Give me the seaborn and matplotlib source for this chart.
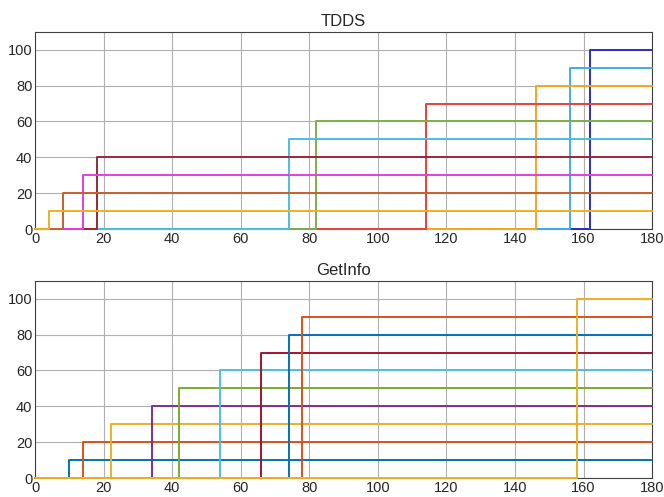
import numpy as np
import pandas as pd
import matplotlib
matplotlib.use("Agg")
import matplotlib.pyplot as plt
import seaborn as sns

# step times (s) and the level each series jumps to
tdds_times = [4, 8, 14, 18, 74, 82, 114, 146, 156, 162]
tdds_levels = [10, 20, 30, 40, 50, 60, 70, 80, 90, 100]
tdds_colors = ['#EDB120', '#C8602A', '#E23FE0', '#98283A', '#4DBEDE',
               '#7FAE4A', '#E8403C', '#F5A623', '#3FAEEA', '#2E2EC0']

getinfo_times = [10, 14, 22, 34, 42, 54, 66, 74, 78, 158]
getinfo_levels = [10, 20, 30, 40, 50, 60, 70, 80, 90, 100]
getinfo_colors = ['#0072BD', '#D95319', '#EDB120', '#7E2F8E', '#77AC30',
                  '#4DBEEE', '#A2142F', '#0072BD', '#D95319', '#EDB120']

t_end = 180


def make_steps(times, levels):
    rows = []
    for i, (t, v) in enumerate(zip(times, levels)):
        rows += [(i, 0, 0), (i, t, v), (i, t_end, v)]
    return pd.DataFrame(rows, columns=['series', 'time', 'value'])


sns.set_style('white')
plt.rcParams['font.family'] = ['Liberation Sans', 'DejaVu Sans']

fig = plt.figure(figsize=(6.64, 4.97), dpi=100)
ax_top = fig.add_axes([0.053, 0.539, 0.929, 0.397])
ax_bot = fig.add_axes([0.053, 0.038, 0.929, 0.397])

df_top = make_steps(tdds_times, tdds_levels)
df_bot = make_steps(getinfo_times, getinfo_levels)

# in TDDS the first series sits on top, in GetInfo the last one does
sns.lineplot(data=df_top, x='time', y='value', hue='series',
             hue_order=list(range(len(tdds_times)))[::-1],
             palette=dict(enumerate(tdds_colors)), estimator=None,
             drawstyle='steps-post', lw=1.4, legend=False, ax=ax_top)
sns.lineplot(data=df_bot, x='time', y='value', hue='series',
             palette=dict(enumerate(getinfo_colors)), estimator=None,
             drawstyle='steps-post', lw=1.4, legend=False, ax=ax_bot)

for ax, title in [(ax_top, 'TDDS'), (ax_bot, 'GetInfo')]:
    for ln in ax.get_lines():
        ln.set_zorder(3)
        ln.set_clip_on(False)
    ax.set_xlim(0, t_end)
    ax.set_ylim(0, 110)
    ax.set_xticks(np.arange(0, 181, 20))
    ax.set_yticks(np.arange(0, 101, 20))
    ax.grid(True, color='#b0b0b0', lw=0.8)
    ax.set_axisbelow(True)
    ax.tick_params(direction='in', length=3, labelsize=10.5, pad=2,
                   colors='#262626')
    for s in ax.spines.values():
        s.set_color('#404040')
        s.set_linewidth(0.8)
    ax.set_xlabel('')
    ax.set_ylabel('')
    ax.set_title(title, fontsize=12, pad=4)

fig.savefig('out.png', dpi=100)
